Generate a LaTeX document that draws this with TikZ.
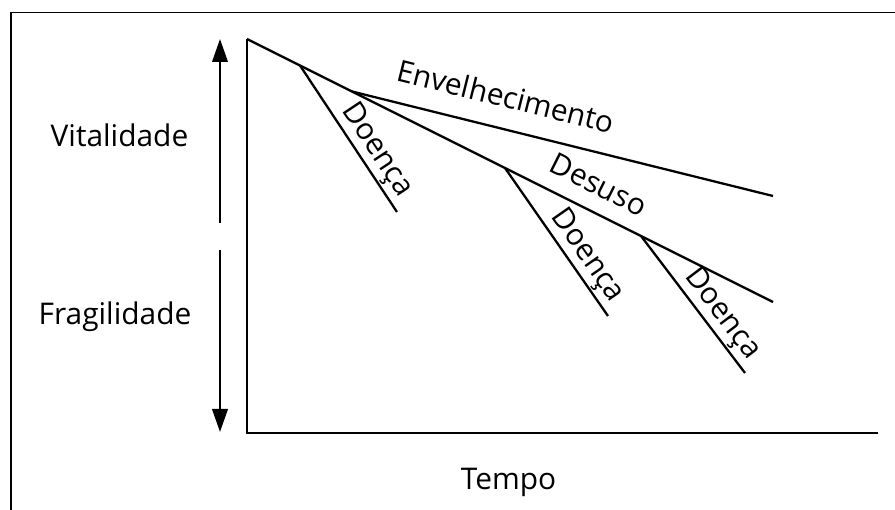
\documentclass[tikz,border=0pt]{standalone}
\usepackage{fontspec}
\setmainfont{Open Sans}
\usetikzlibrary{arrows.meta}

\tikzset{
  lbl/.style={font=\fontsize{17}{20}\selectfont, inner sep=0pt},
  vtip/.style={-{Triangle[length=0.46cm, width=0.31cm]}}
}

\begin{document}
\begin{tikzpicture}[line width=1.3pt]
  \useasboundingbox (0,0) rectangle (17.9,10.2);
  \clip (0,0) rectangle (17.9,10.2);

  % Frame
  \draw[line width=0.8pt] (0.22,-1) |- (19,9.95);

  % Points
  \coordinate (o) at (4.94,1.54);
  \coordinate (top) at (4.94,9.42);
  \coordinate (xend) at (17.56,1.54);
  \coordinate (p1) at (6.00,8.89);
  \coordinate (p2) at (7.04,8.37);
  \coordinate (p3) at (10.10,6.84);
  \coordinate (p4) at (12.82,5.48);
  \coordinate (dend) at (15.46,4.16);
  \coordinate (eend) at (15.46,6.28);
  \coordinate (d1) at (7.94,5.96);
  \coordinate (d2) at (12.16,3.88);
  \coordinate (d3) at (14.90,2.74);

  % Axes
  \draw (top) -- (o) -- (xend);

  % Vitality arrows
  \coordinate (vlow) at (4.40,5.74);
  \coordinate (vtop) at (4.40,9.42);
  \coordinate (flow) at (4.40,5.20);
  \coordinate (fbot) at (4.40,1.56);
  \draw[vtip] (vlow) -- (vtop);
  \draw[vtip] (flow) -- (fbot);

  % Labels
  \node[lbl, anchor=base] (vital) at (2.39,7.26) {Vitalidade};
  \node[lbl, anchor=base] (frag) at (2.30,3.70) {Fragilidade};
  \node[lbl, anchor=base] (tempo) at (10.17,0.40) {Tempo};

  % Curves
  \draw (top) -- (p1) -- (p2) -- (p3)
    -- node[lbl, sloped, pos=0.6, above=0.3cm] (desuso) {Desuso} (p4) -- (dend);
  \draw (p2) -- node[lbl, sloped, pos=0.347, above=0.4cm] (env) {Envelhecimento} (eend);
  \draw (p1) -- node[lbl, sloped, pos=0.643, above=0.03cm] (doe1) {Doença} (d1);
  \draw (p3) -- node[lbl, sloped, pos=0.66, above=0.03cm] (doe2) {Doença} (d2);
  \draw (p4) -- node[lbl, sloped, pos=0.647, above=0.03cm] (doe3) {Doença} (d3);
\end{tikzpicture}
\end{document}
